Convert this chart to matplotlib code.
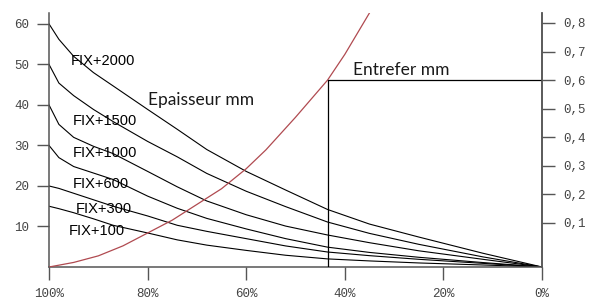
import matplotlib
matplotlib.use("Agg")
import matplotlib.pyplot as plt

# x positions in percent (axis runs from 100% on the left to 0% on the right)
pct = [100, 98, 95, 91, 87, 80, 74, 68, 60, 52, 43.5, 35, 25, 12, 0]

# Epaisseur mm, one curve per setting (left axis)
fix_2000 = [60, 56.2, 52.0, 48.0, 44.7, 38.9, 34.0, 29.0, 23.6, 19.0, 14.2, 10.6, 7.4, 3.4, 0]
fix_1500 = [50, 45.4, 42.3, 38.9, 35.9, 31.0, 27.2, 23.1, 18.7, 14.9, 11.1, 8.3, 5.6, 2.5, 0]
fix_1000 = [40, 35.2, 32.0, 29.8, 28.0, 23.6, 19.8, 16.3, 12.9, 10.1, 7.9, 6.0, 4.0, 1.9, 0]
fix_600 = [30, 27.0, 24.8, 23.2, 21.6, 17.5, 14.5, 12.0, 9.4, 7.0, 4.9, 3.6, 2.4, 1.1, 0]
fix_300 = [20, 19.4, 18.2, 16.6, 15.0, 12.6, 10.3, 8.8, 7.0, 5.2, 3.7, 2.8, 1.9, 0.9, 0]
fix_100 = [15, 14.4, 13.4, 11.9, 10.3, 8.4, 6.7, 5.4, 4.1, 2.9, 2.0, 1.5, 1.0, 0.5, 0]
curves = [fix_2000, fix_1500, fix_1000, fix_600, fix_300, fix_100]
curve_names = ["FIX+2000", "FIX+1500", "FIX+1000", "FIX+600", "FIX+300", "FIX+100"]

# Entrefer mm (right axis)
red_pct = [100, 95, 90, 85, 80, 75, 70, 65, 60, 56, 50, 43.5, 40, 35]
red_val = [-0.054, -0.038, -0.015, 0.02, 0.065, 0.11, 0.165, 0.22, 0.29, 0.356, 0.47,
           0.60, 0.69, 0.835]
entrefer_pct = 43.4
entrefer_val = 0.6

left_ticks = [10, 20, 30, 40, 50, 60]
right_ticks = [0.1, 0.2, 0.3, 0.4, 0.5, 0.6, 0.7, 0.8]
right_labels = ["0,1", "0,2", "0,3", "0,4", "0,5", "0,6", "0,7", "0,8"]
x_ticks = [100, 80, 60, 40, 20, 0]
x_labels = ["100%", "80%", "60%", "40%", "20%", "0%"]

fig = plt.figure(figsize=(5.9, 3.0), dpi=100)
ax = fig.add_axes([0.0831, 0.11, 0.8355, 0.8467])
ax2 = ax.twinx()

for c in curves:
    ax.plot(pct, c, color="black", lw=0.8)

ax2.plot(red_pct, red_val, color="#b04a50", lw=0.9)
ylo = -0.054
ax2.plot([entrefer_pct, entrefer_pct, 0], [ylo, entrefer_val, entrefer_val],
         color="black", lw=0.9)

ax.set_xlim(100, 0)
ax.set_ylim(0, 62.7)
ax2.set_ylim(ylo, 0.835)

tick_font = dict(family="Liberation Mono", size=9, color="#444444")
ax.set_xticks(x_ticks)
ax.set_xticklabels(x_labels, **tick_font)
ax.set_yticks(left_ticks)
ax.set_yticklabels([str(t) for t in left_ticks], **tick_font)
ax2.set_yticks(right_ticks)
ax2.set_yticklabels(right_labels, **tick_font)

for a in (ax, ax2):
    a.spines["top"].set_visible(False)
    for s in ("left", "right", "bottom"):
        a.spines[s].set_color("#555555")
        a.spines[s].set_linewidth(1.1)
    a.tick_params(length=9, width=1, color="#555555")
ax.tick_params(axis="x", pad=6)
ax.tick_params(axis="y", pad=5)
ax2.tick_params(axis="y", pad=6)
ax2.spines["left"].set_visible(False)
ax2.spines["bottom"].set_visible(False)

# curve labels
label_pos = [(95.6, 50.9), (95.2, 36.0), (95.2, 28.1), (95.2, 20.5), (94.6, 14.3), (95.9, 8.9)]
for name, (x, y) in zip(curve_names, label_pos):
    ax.text(x, y, name, fontsize=10.5, family="Liberation Sans", va="center", ha="left")

ax.text(79.9, 41.2, "Epaisseur mm", fontsize=12.5, family="Lato", va="center", ha="left",
        color="#1a1a1a")
ax.text(38.3, 48.6, "Entrefer mm", fontsize=12.5, family="Lato", va="center", ha="left",
        color="#1a1a1a")

fig.savefig("out.png", dpi=100)
